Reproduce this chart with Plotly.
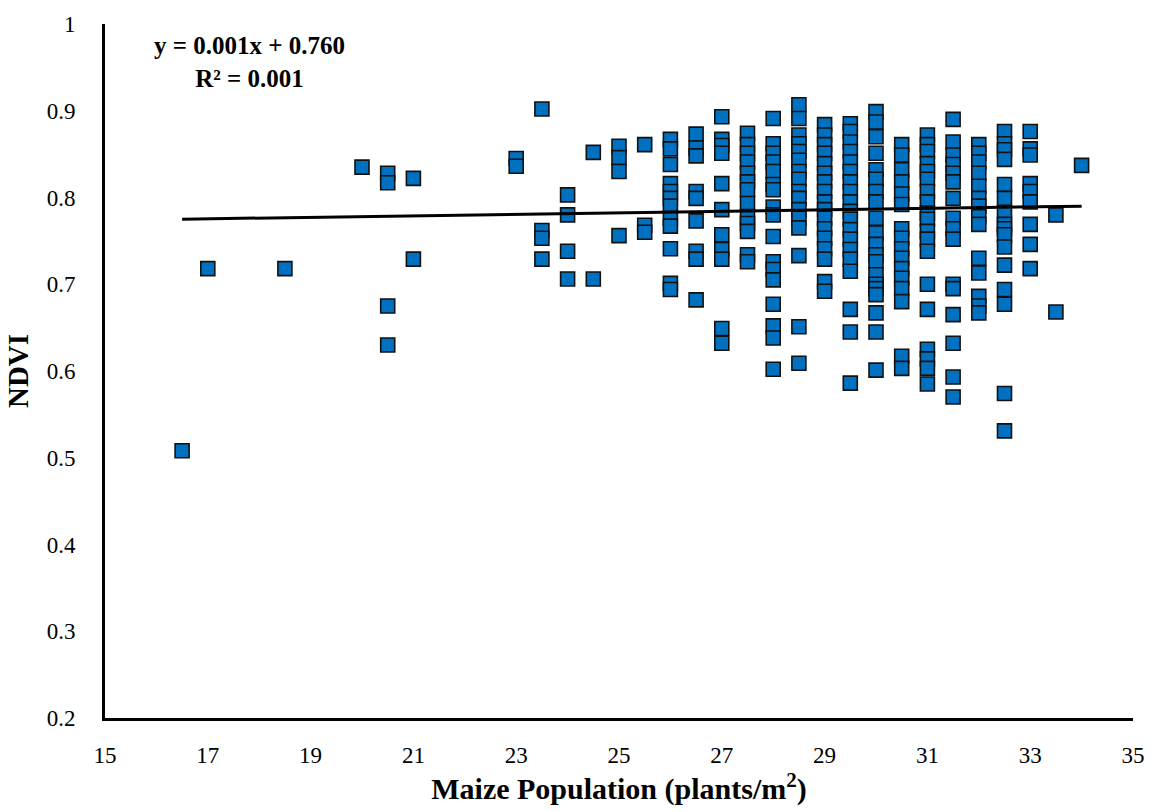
import plotly.graph_objects as go

# ---- data ----
columns = {
    16.5: [0.508],
    17.0: [0.718],
    18.5: [0.718],
    20.0: [0.835],
    20.5: [0.828, 0.817, 0.675, 0.630],
    21.0: [0.822, 0.729],
    23.0: [0.845, 0.836],
    23.5: [0.902, 0.762, 0.753, 0.729],
    24.0: [0.803, 0.780, 0.738, 0.706],
    24.5: [0.852, 0.706],
    25.0: [0.859, 0.846, 0.830, 0.756],
    25.5: [0.861, 0.768, 0.760],
    26.0: [0.867, 0.856, 0.838, 0.816, 0.807, 0.799, 0.790, 0.776, 0.767, 0.741, 0.701, 0.694],
    26.5: [0.873, 0.857, 0.848, 0.807, 0.799, 0.773, 0.738, 0.729, 0.682],
    27.0: [0.893, 0.867, 0.860, 0.851, 0.816, 0.786, 0.757, 0.740, 0.729, 0.649, 0.632],
    27.5: [0.874, 0.861, 0.851, 0.841, 0.828, 0.818, 0.809, 0.793, 0.778, 0.770, 0.761, 0.734, 0.726],
    28.0: [0.891, 0.862, 0.851, 0.841, 0.830, 0.815, 0.809, 0.789, 0.780, 0.755, 0.726, 0.717,
           0.705, 0.677, 0.652, 0.638, 0.602],
    28.5: [0.907, 0.891, 0.872, 0.862, 0.853, 0.843, 0.830, 0.821, 0.807, 0.799, 0.786, 0.776,
           0.765, 0.733, 0.651, 0.609],
    29.0: [0.884, 0.872, 0.861, 0.851, 0.839, 0.828, 0.818, 0.807, 0.795, 0.786, 0.776, 0.764,
           0.753, 0.741, 0.729, 0.703, 0.692],
    29.5: [0.885, 0.876, 0.864, 0.853, 0.841, 0.830, 0.818, 0.807, 0.795, 0.784, 0.775, 0.763,
           0.752, 0.740, 0.729, 0.715, 0.671, 0.645, 0.586],
    30.0: [0.899, 0.887, 0.870, 0.851, 0.832, 0.821, 0.807, 0.795, 0.776, 0.759, 0.746, 0.734,
           0.726, 0.711, 0.700, 0.695, 0.688, 0.667, 0.645, 0.601],
    30.5: [0.861, 0.849, 0.832, 0.818, 0.804, 0.792, 0.764, 0.753, 0.741, 0.730, 0.718, 0.707,
           0.695, 0.680, 0.617, 0.603],
    31.0: [0.872, 0.861, 0.853, 0.839, 0.830, 0.821, 0.807, 0.795, 0.782, 0.775, 0.761, 0.752,
           0.738, 0.700, 0.671, 0.625, 0.614, 0.603, 0.585],
    31.5: [0.890, 0.864, 0.849, 0.838, 0.828, 0.818, 0.799, 0.776, 0.764, 0.752, 0.700, 0.695,
           0.665, 0.632, 0.593, 0.570],
    32.0: [0.861, 0.851, 0.841, 0.828, 0.813, 0.799, 0.790, 0.778, 0.769, 0.730, 0.713, 0.686,
           0.675, 0.667],
    32.5: [0.876, 0.862, 0.855, 0.844, 0.815, 0.799, 0.782, 0.769, 0.764, 0.757, 0.743, 0.722,
           0.694, 0.677, 0.574, 0.531],
    33.0: [0.876, 0.856, 0.849, 0.816, 0.807, 0.795, 0.769, 0.746, 0.718],
    33.5: [0.780, 0.668],
    34.0: [0.837],
}

population = []
ndvi = []
for xv, ys in columns.items():
    for yv in ys:
        population.append(xv)
        ndvi.append(yv)

trend_x = [16.5, 34.0]
trend_y = [0.775, 0.790]

x_ticks = [15, 17, 19, 21, 23, 25, 27, 29, 31, 33, 35]
y_ticks = [0.2, 0.3, 0.4, 0.5, 0.6, 0.7, 0.8, 0.9, 1.0]
y_tick_text = ["0.2", "0.3", "0.4", "0.5", "0.6", "0.7", "0.8", "0.9", "1"]

FONT = "Liberation Serif, Times New Roman, serif"

L, R, T, B = 105, 22, 22, 94
plot_w = 1157 - L - R
plot_h = 812 - T - B

fig = go.Figure()
fig.add_trace(go.Scatter(
    x=population, y=ndvi, mode="markers",
    marker=dict(symbol="square", size=14, color="#0070C0",
                line=dict(color="#111111", width=1.6)),
    showlegend=False, hoverinfo="x+y",
))
fig.add_trace(go.Scatter(
    x=trend_x, y=trend_y, mode="lines",
    line=dict(color="black", width=3),
    showlegend=False, hoverinfo="skip",
))

fig.add_annotation(
    x=(250 - L) / plot_w, y=(812 - B - 60) / plot_h,
    xref="paper", yref="paper", showarrow=False,
    xanchor="center", yanchor="middle",
    text="<b>y = 0.001x + 0.760</b><br><b>R² = 0.001</b>",
    font=dict(family=FONT, size=25, color="black"), align="center",
)

fig.update_layout(
    width=1157, height=812,
    margin=dict(l=L, r=R, t=T, b=B),
    paper_bgcolor="white", plot_bgcolor="white",
    font=dict(family=FONT, size=23, color="black"),
    xaxis=dict(
        range=[15, 35], tickvals=x_ticks, showgrid=False, zeroline=False,
        showline=True, linecolor="black", linewidth=3, ticks="",
        ticklabelstandoff=14,
        tickfont=dict(family=FONT, size=23, color="black"),
        title=dict(text="<b>Maize Population (plants/m<sup>2</sup>)</b>",
                   font=dict(family=FONT, size=30, color="black"), standoff=8),
    ),
    yaxis=dict(
        range=[0.2, 1.0], tickvals=y_ticks, ticktext=y_tick_text,
        showgrid=False, zeroline=False,
        showline=True, linecolor="black", linewidth=3, ticks="",
        ticklabelstandoff=22,
        tickfont=dict(family=FONT, size=23, color="black"),
        title=dict(text="<b>NDVI</b>",
                   font=dict(family=FONT, size=29, color="black"), standoff=10),
    ),
)

fig.write_html("out.html")
